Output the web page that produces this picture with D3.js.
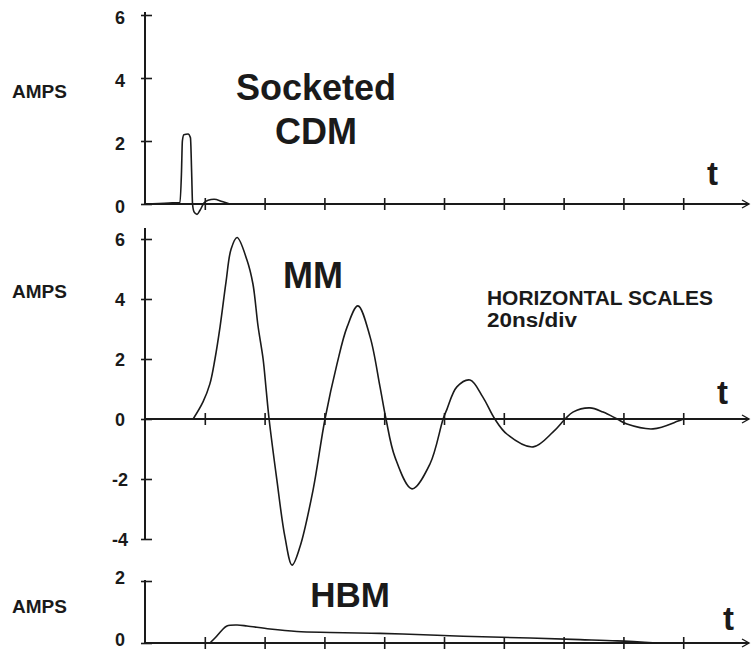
<!DOCTYPE html>
<html>
<head>
<meta charset="utf-8">
<script src="https://cdn.jsdelivr.net/npm/d3@7"></script>
<style>
  html, body { margin: 0; padding: 0; background: #ffffff; }
  svg { display: block; }
  text { font-family: "Liberation Sans", Arial, Helvetica, sans-serif; font-weight: bold; fill: #1a1a1a; }
</style>
</head>
<body>
<svg id="chart" width="751" height="650"></svg>
<script>
// ---- data (time in ns, current in amps) ----
const xTicks = [20, 40, 60, 80, 100, 120, 140, 160, 180];

const cdmTicks = [0, 2, 4, 6];
const cdmT = [0, 8, 11.7, 12.2, 12.5, 13.0, 14.4, 15.2, 15.6, 15.9, 16.4, 17.4, 18.4, 19.7, 21.1, 23.1, 25.8, 28.4];
const cdmI = [0, 0.03, 0.05, 1.0, 2.0, 2.2, 2.22, 2.1, 1.0, 0, -0.25, -0.33, -0.2, 0.03, 0.12, 0.15, 0.08, 0];

const mmTicks = [-4, -2, 0, 2, 4, 6];
const mmT = [16.1, 19.4, 21.7, 23.4, 25.1, 27.1, 28.8, 30.8, 34.1, 36.1, 37.8, 39.5, 40.5, 41.5, 44.1, 46.8, 49.2, 51.8,
             56.2, 60.2, 64.2, 67.6, 71.2, 75.3, 78.6, 80.6, 83.6, 89.3, 95.3, 99.7, 101, 104.3, 108.7, 113, 117,
             121, 129.8, 136.5, 140.5, 143.1, 148.8, 153.2, 157.9, 161.2, 169.9, 178.3, 180];
const mmI = [0, 0.57, 1.17, 2.0, 3.07, 4.57, 5.67, 6.05, 5.3, 4.5, 3.1, 2.0, 1.0, 0, -2.03, -3.93, -4.87, -4.27,
             -2.37, 0, 1.83, 3.07, 3.77, 2.73, 1.07, 0, -1.27, -2.33, -1.5, 0, 0.33, 1.07, 1.3, 0.73, 0,
             -0.5, -0.93, -0.43, 0, 0.23, 0.37, 0.23, 0, -0.17, -0.33, -0.07, 0];

const hbmTicks = [0, 2];
const hbmT = [21.7, 23.4, 25.8, 27.4, 30.8, 34.1, 41.8, 50.8, 61.9, 78.6, 97.7, 106.4, 128.8, 145.5, 157.9, 171.2];
const hbmI = [0, 0.16, 0.42, 0.55, 0.58, 0.55, 0.45, 0.37, 0.34, 0.31, 0.25, 0.22, 0.16, 0.11, 0.07, 0];

// ---- layout ----
const svg = d3.select("#chart");
const ink = "#1a1a1a";
const x = d3.scaleLinear().domain([0, 202]).range([145, 749]);

const panels = [
  { name: "cdm", ticks: cdmTicks, T: cdmT, I: cdmI, curve: d3.curveMonotoneX,
    y: d3.scaleLinear().domain([0, 6]).range([204, 15]), axisTop: 12, axisBottom: 204,
    ampsY: 91, tY: 185, tX: 707, labelShift: 2 },
  { name: "mm", ticks: mmTicks, T: mmT, I: mmI, curve: d3.curveCatmullRom.alpha(0.5),
    y: d3.scaleLinear().domain([-4, 6]).range([539, 239]), axisTop: 228, axisBottom: 539,
    ampsY: 291, tY: 404, tX: 717, labelShift: 0 },
  { name: "hbm", ticks: hbmTicks, T: hbmT, I: hbmI, curve: d3.curveCatmullRom.alpha(0.5),
    y: d3.scaleLinear().domain([0, 2]).range([643, 581]), axisTop: 580, axisBottom: 643,
    ampsY: 606, tY: 630, tX: 723, labelShift: -4 }
];

panels.forEach(p => {
  const g = svg.append("g").attr("class", "panel-" + p.name);
  const y0 = p.y(0);

  // vertical axis
  g.append("line")
    .attr("x1", x(0)).attr("x2", x(0))
    .attr("y1", p.axisTop).attr("y2", p.axisBottom)
    .attr("stroke", ink).attr("stroke-width", 2);

  const yAxis = d3.axisLeft(p.y).tickValues(p.ticks).tickSize(0).tickFormat(d => String(d));
  const ya = g.append("g").attr("transform", `translate(${x(0)},0)`).call(yAxis);
  ya.select(".domain").remove();
  ya.selectAll(".tick line")
    .attr("x1", -4).attr("x2", 7)
    .attr("stroke", ink).attr("stroke-width", 1.6);
  ya.selectAll(".tick text")
    .attr("x", -25).attr("y", p.labelShift).attr("dy", "0.35em")
    .attr("text-anchor", "middle")
    .style("font-size", "18px").style("font-weight", "bold")
    .style("font-family", "'Liberation Sans', Arial, sans-serif")
    .attr("fill", ink);

  // horizontal axis with crossing ticks
  const xAxis = d3.axisBottom(x).tickValues(xTicks).tickSize(0).tickFormat("");
  const xa = g.append("g").attr("transform", `translate(0,${y0})`).call(xAxis);
  xa.select(".domain").remove();
  xa.selectAll(".tick line")
    .attr("y1", -6).attr("y2", 6)
    .attr("stroke", ink).attr("stroke-width", 1.6);

  g.append("line")
    .attr("x1", x(0)).attr("x2", 749)
    .attr("y1", y0).attr("y2", y0)
    .attr("stroke", ink).attr("stroke-width", 2);
  g.append("path")
    .attr("d", `M${742},${y0 - 4}L${749},${y0}L${742},${y0 + 4}`)
    .attr("fill", "none").attr("stroke", ink).attr("stroke-width", 1.4);

  // waveform
  const pts = p.T.map((t, i) => [t, p.I[i]]);
  const line = d3.line()
    .x(d => x(d[0])).y(d => p.y(d[1]))
    .curve(p.curve);
  g.append("path")
    .datum(pts)
    .attr("d", line)
    .attr("fill", "none")
    .attr("stroke", ink)
    .attr("stroke-width", 1.6)
    .attr("stroke-linejoin", "round");

  // labels
  g.append("text").attr("x", 12).attr("y", p.ampsY).attr("dy", "0.35em")
    .style("font-size", "19px").text("AMPS");
  g.append("text").attr("x", p.tX).attr("y", p.tY)
    .style("font-size", "33px").text("t");
});

// titles
svg.append("text").attr("x", 316).attr("y", 100).attr("text-anchor", "middle")
  .style("font-size", "36px").text("Socketed");
svg.append("text").attr("x", 316).attr("y", 144).attr("text-anchor", "middle")
  .style("font-size", "36px").text("CDM");
svg.append("text").attr("x", 313).attr("y", 288).attr("text-anchor", "middle")
  .style("font-size", "36px").text("MM");
svg.append("text").attr("x", 350).attr("y", 607).attr("text-anchor", "middle")
  .style("font-size", "35px").text("HBM");
svg.append("text").attr("x", 487).attr("y", 305)
  .style("font-size", "20px").attr("textLength", 226).attr("lengthAdjust", "spacingAndGlyphs")
  .text("HORIZONTAL SCALES");
svg.append("text").attr("x", 487).attr("y", 327)
  .style("font-size", "20px").attr("textLength", 90).attr("lengthAdjust", "spacingAndGlyphs")
  .text("20ns/div");
</script>
</body>
</html>
